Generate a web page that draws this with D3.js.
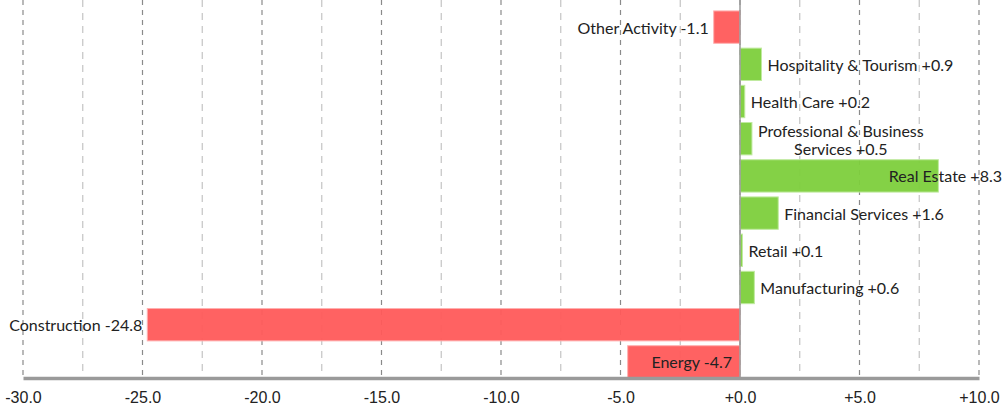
<!DOCTYPE html>
<html>
<head>
<meta charset="utf-8">
<script src="https://cdn.jsdelivr.net/npm/d3@7"></script>
<style>
  html, body { margin: 0; padding: 0; background: #fff; }
  svg { display: block; }
</style>
</head>
<body>
<svg id="chart" width="1006" height="408"></svg>
<script>
const categories = ["Other Activity", "Hospitality & Tourism", "Health Care", "Professional & Business Services", "Real Estate", "Financial Services", "Retail", "Manufacturing", "Construction", "Energy"];
const values = [-1.1, 0.9, 0.2, 0.5, 8.3, 1.6, 0.1, 0.6, -24.8, -4.7];
const tickValues = [-30, -25, -20, -15, -10, -5, 0, 5, 10];
const gridValues = [-30, -27.5, -25, -22.5, -20, -17.5, -15, -12.5, -10, -7.5, -5, -2.5, 0, 2.5, 5, 7.5, 10];
const insideLabels = ["Energy"];
const wrappedLabels = { "Professional & Business Services": ["Professional & Business", "Services"] };

const W = 1006, H = 408;
const svg = d3.select("#chart");
const x = d3.scaleLinear().domain([-30, 10]).range([23, 979]);
const y = d3.scaleBand().domain(categories).range([8.5, 380.5]).paddingInner(0.13).paddingOuter(0.065);
const axisY = 378;
const fmt = v => (v >= 0 ? "+" : "-") + Math.abs(v).toFixed(1);

// gridlines
svg.append("g").selectAll("line").data(gridValues).join("line")
  .attr("x1", d => x(d)).attr("x2", d => x(d))
  .attr("y1", 0).attr("y2", axisY - 2)
  .attr("stroke", d => d % 5 === 0 ? "#8a8a8a" : "#c4c4c4")
  .attr("stroke-width", 1.2)
  .attr("stroke-dasharray", d => d % 5 === 0 ? "5,5" : "7,6");

// bars
svg.append("g").selectAll("rect").data(categories).join("rect")
  .attr("x", (d, i) => x(Math.min(0, values[i])))
  .attr("width", (d, i) => Math.abs(x(values[i]) - x(0)))
  .attr("y", d => y(d))
  .attr("height", y.bandwidth())
  .attr("fill", (d, i) => values[i] < 0 ? "#ff5a5a" : "#7dcf3c")
  .attr("fill-opacity", 0.95)
  .attr("stroke", (d, i) => values[i] < 0 ? "#ffb0b0" : "#c0eaa0")
  .attr("stroke-width", 1);

// zero line
svg.append("line").attr("x1", x(0)).attr("x2", x(0)).attr("y1", 0).attr("y2", axisY)
  .attr("stroke", "#9a9a9a").attr("stroke-width", 1.5);

// axis
const axis = d3.axisBottom(x).tickValues(tickValues).tickFormat(fmt).tickSize(0).tickPadding(14);
const ag = svg.append("g").attr("transform", `translate(0,${axisY})`).call(axis);
ag.select(".domain").attr("stroke", "#9a9a9a").attr("stroke-width", 3.5);
ag.selectAll("text").attr("font-family", "'Liberation Sans', Arial, sans-serif").attr("font-size", 16).attr("fill", "#222");

// labels
const lg = svg.append("g").attr("font-family", "Lato, sans-serif").attr("font-size", 16).attr("fill", "#222");
categories.forEach((c, i) => {
  const v = values[i];
  const cy = y(c) + y.bandwidth() / 2;
  const text = c + " " + fmt(v);
  if (wrappedLabels[c]) {
    const lines = wrappedLabels[c].slice();
    lines[lines.length - 1] += " " + fmt(v);
    const t = lg.append("text").attr("text-anchor", "middle").attr("dominant-baseline", "central");
    lines.forEach((l, k) => t.append("tspan").attr("x", 0).attr("y", cy + (k - (lines.length - 1) / 2) * 18).text(l));
    const bw = t.node().getBBox().width;
    t.selectAll("tspan").attr("x", x(v) + 6 + bw / 2);
    return;
  }
  const t = lg.append("text").attr("dominant-baseline", "central").attr("y", cy).text(text);
  const tw = t.node().getComputedTextLength();
  if (insideLabels.includes(c)) {
    t.attr("text-anchor", "end").attr("x", v < 0 ? x(0) - 8 : x(v) - 8);
  } else if (v < 0) {
    t.attr("text-anchor", "end").attr("x", Math.max(x(v) - 5, tw + 3));
  } else {
    t.attr("text-anchor", "start").attr("x", Math.min(x(v) + 6, W - 4 - tw));
  }
});
</script>
</body>
</html>
